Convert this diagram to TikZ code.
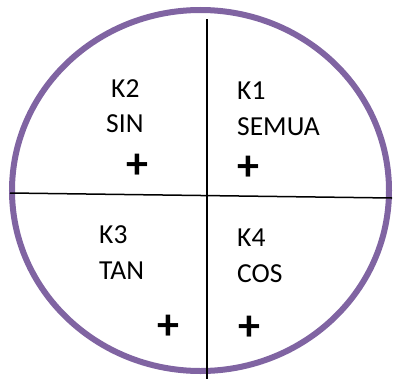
\documentclass[tikz,border=0pt]{standalone}
\usepackage{fontspec}
\setmainfont{Carlito}
\begin{document}
\begin{tikzpicture}[x=1pt,y=-1pt,
  lbl/.style={anchor=base west,inner sep=0pt,font=\fontsize{27.5}{33}\selectfont},
  plus/.style={inner sep=0pt,font=\fontsize{44}{44}\selectfont\bfseries},
  sep/.style={draw=black,line width=1.5pt}]
\useasboundingbox (0,0) rectangle (393,380);
\definecolor{circ}{HTML}{8064A2}
\coordinate (c) at (200.5,190.5);
\draw[circ,line width=6pt] (c) ellipse [x radius=188.5, y radius=180.5];
\coordinate (vt) at (207,19);
\coordinate (vb) at (207,379);
\coordinate (hl) at (10,193);
\coordinate (hr) at (392,198);
\draw[sep] (vt) -- (vb);
\draw[sep] (hl) -- (hr);
\node[lbl] (k2) at (111,97) {K2};
\node[lbl] (sin) at (106,132) {SIN};
\node[lbl] (k1) at (237,99) {K1};
\node[lbl] (semua) at (237,135) {SEMUA};
\node[lbl] (k3) at (99,243) {K3};
\node[lbl] (tan) at (99,279) {TAN};
\node[lbl] (k4) at (237,246) {K4};
\node[lbl] (cos) at (237,282) {COS};
\node[plus] (p2) at (137,166) {+};
\node[plus] (p1) at (248,168) {+};
\node[plus] (p3) at (168,327) {+};
\node[plus] (p4) at (249,328) {+};
\end{tikzpicture}
\end{document}
